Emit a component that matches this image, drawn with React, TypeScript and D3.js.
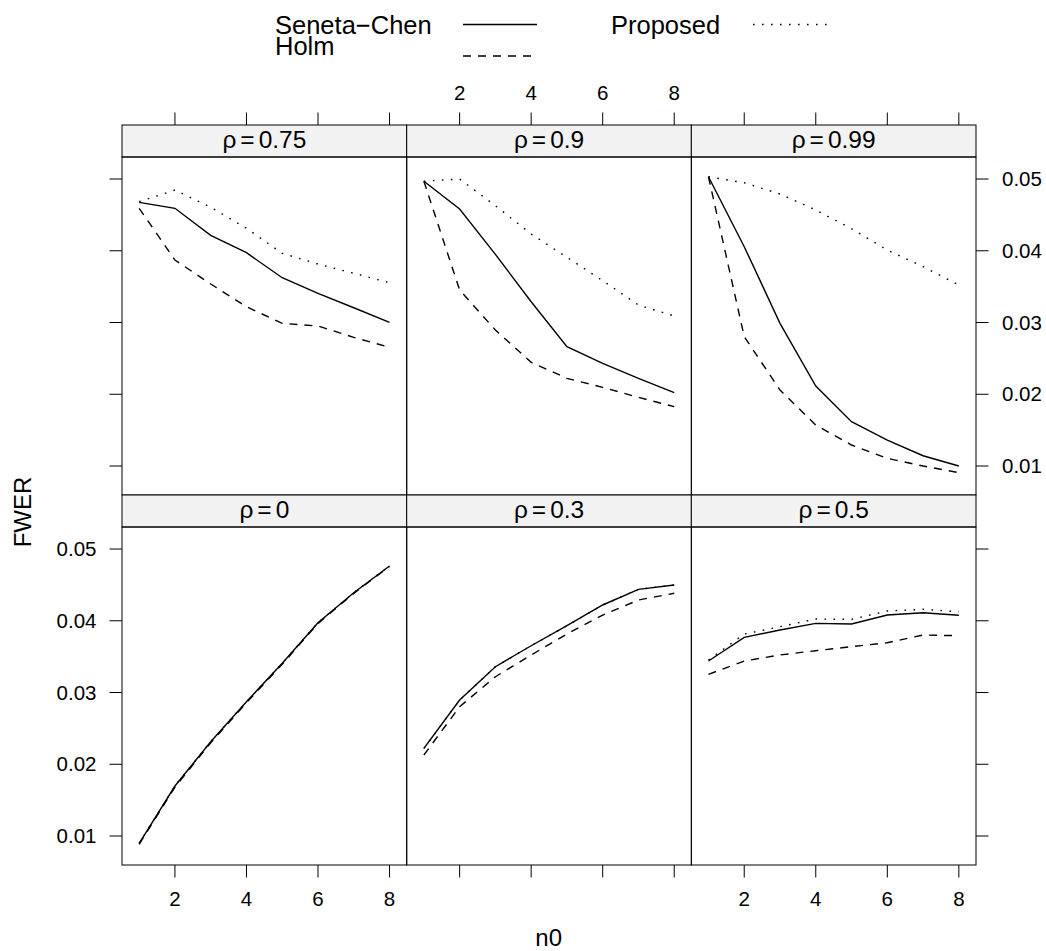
import React from "react";
import * as d3 from "d3";

// ---- data ----
const n0 = [1, 2, 3, 4, 5, 6, 7, 8];
const panelOrderTop = ["0.75", "0.9", "0.99"];
const panelOrderBottom = ["0", "0.3", "0.5"];
const xTicks = [2, 4, 6, 8];
const yTicks = [0.01, 0.02, 0.03, 0.04, 0.05];
const yTickLabels = ["0.01", "0.02", "0.03", "0.04", "0.05"];
const methods = ["Seneta\u2212Chen", "Holm", "Proposed"];

const senetaChen: Record<string, number[]> = {
  "0.75": [0.04675, 0.04592, 0.04215, 0.03973, 0.03624, 0.03407, 0.03206, 0.03003],
  "0.9": [0.0497, 0.04582, 0.0395, 0.0329, 0.02663, 0.02431, 0.02222, 0.02022],
  "0.99": [0.05032, 0.04057, 0.02989, 0.02115, 0.01618, 0.01362, 0.01143, 0.01],
  "0": [0.00898, 0.01697, 0.02314, 0.02872, 0.03407, 0.03973, 0.04391, 0.04763],
  "0.3": [0.02222, 0.02895, 0.0336, 0.03652, 0.03931, 0.0422, 0.04438, 0.04498],
  "0.5": [0.03439, 0.03769, 0.03871, 0.03964, 0.03955, 0.0408, 0.04112, 0.04076],
};
const holm: Record<string, number[]> = {
  "0.75": [0.04592, 0.03871, 0.03537, 0.0322, 0.02989, 0.02951, 0.02794, 0.02654],
  "0.9": [0.0497, 0.03453, 0.02896, 0.02445, 0.02222, 0.02097, 0.01957, 0.01827],
  "0.99": [0.05032, 0.02803, 0.02059, 0.01571, 0.01293, 0.01107, 0.01, 0.00907],
  "0": [0.00885, 0.01682, 0.02298, 0.02858, 0.03395, 0.03962, 0.04382, 0.04758],
  "0.3": [0.02129, 0.02802, 0.0322, 0.03523, 0.03815, 0.0408, 0.04289, 0.04383],
  "0.5": [0.03254, 0.03439, 0.03523, 0.03583, 0.03639, 0.03694, 0.03801, 0.03792],
};
const proposed: Record<string, number[]> = {
  "0.75": [0.04684, 0.04847, 0.04606, 0.04313, 0.03964, 0.03815, 0.03686, 0.03555],
  "0.9": [0.0497, 0.05, 0.04628, 0.04233, 0.03909, 0.03583, 0.03244, 0.03091],
  "0.99": [0.05032, 0.04948, 0.04791, 0.04568, 0.04307, 0.0401, 0.03778, 0.03523],
  "0": [0.00898, 0.01697, 0.02314, 0.02872, 0.03407, 0.03973, 0.04391, 0.04763],
  "0.3": [0.02222, 0.02895, 0.0336, 0.03652, 0.03931, 0.0422, 0.04438, 0.04498],
  "0.5": [0.03453, 0.03815, 0.03917, 0.04024, 0.0402, 0.04136, 0.0416, 0.04126],
};

const FONT = "'Liberation Sans', Arial, Helvetica, sans-serif";
const W = 1046;
const H = 951;

const colLefts = [122, 406.7, 691.3];
const colW = 284.7;
const rowStripTops = [125, 495];
const stripH = 32;
const plotH = 338;
const TICK = 12.5;
const TICK_FS = 20.5;

const DASH = "8,7";
const DOT = "1.6,7.4";

const x = d3.scaleLinear().domain([0.52, 8.48]).range([0, colW]);
const yDomain: [number, number] = [0.00596, 0.05307];

export default function App() {
  const styles = [
    { data: senetaChen, dash: undefined as string | undefined },
    { data: holm, dash: DASH },
    { data: proposed, dash: DOT },
  ];
  const rows = [panelOrderTop, panelOrderBottom];

  const panels: React.ReactNode[] = [];
  rows.forEach((row, ri) => {
    row.forEach((rho, ci) => {
      const left = colLefts[ci];
      const stripTop = rowStripTops[ri];
      const plotTop = stripTop + stripH;
      const plotBottom = plotTop + plotH;
      const y = d3.scaleLinear().domain(yDomain).range([plotBottom, plotTop]);
      const line = d3
        .line<number>()
        .x((_, i) => left + x(n0[i]))
        .y((v) => y(v));
      panels.push(
        <g key={`p-${ri}-${ci}`}>
          <rect x={left} y={stripTop} width={colW} height={stripH} fill="#f2f2f2" stroke="#000" strokeWidth={1} />
          <text
            x={left + colW / 2}
            y={stripTop + 23}
            textAnchor="middle"
            fontSize={24.5}
            fontFamily={FONT}
          >
            <tspan>ρ</tspan>
            <tspan dx={4}>=</tspan>
            <tspan dx={4}>{rho}</tspan>
          </text>
          <rect x={left} y={plotTop} width={colW} height={plotH} fill="none" stroke="#000" strokeWidth={1} />
          {styles.map((s, si) => (
            <path
              key={si}
              d={line(s.data[rho]) || ""}
              fill="none"
              stroke="#000"
              strokeWidth={1.4}
              strokeDasharray={s.dash}
            />
          ))}
        </g>
      );
    });
  });

  // axes
  const axes: React.ReactNode[] = [];
  const topRowTop = rowStripTops[0];
  const bottomPlotBottom = rowStripTops[1] + stripH + plotH;
  colLefts.forEach((left, ci) => {
    xTicks.forEach((t) => {
      const px = left + x(t);
      axes.push(<line key={`tt${ci}${t}`} x1={px} x2={px} y1={topRowTop} y2={topRowTop - TICK} stroke="#000" strokeWidth={1} />);
      axes.push(<line key={`bt${ci}${t}`} x1={px} x2={px} y1={bottomPlotBottom} y2={bottomPlotBottom + TICK} stroke="#000" strokeWidth={1} />);
      if (ci === 1) {
        axes.push(
          <text key={`tl${ci}${t}`} x={px} y={100} textAnchor="middle" fontSize={TICK_FS} fontFamily={FONT}>
            {t}
          </text>
        );
      } else {
        axes.push(
          <text key={`bl${ci}${t}`} x={px} y={906} textAnchor="middle" fontSize={TICK_FS} fontFamily={FONT}>
            {t}
          </text>
        );
      }
    });
  });
  const rightEdge = colLefts[2] + colW;
  rowStripTops.forEach((st, ri) => {
    const plotTop = st + stripH;
    const y = d3.scaleLinear().domain(yDomain).range([plotTop + plotH, plotTop]);
    yTicks.forEach((t, ti) => {
      const py = y(t);
      axes.push(<line key={`lt${ri}${ti}`} x1={colLefts[0]} x2={colLefts[0] - TICK} y1={py} y2={py} stroke="#000" strokeWidth={1} />);
      axes.push(<line key={`rt${ri}${ti}`} x1={rightEdge} x2={rightEdge + TICK} y1={py} y2={py} stroke="#000" strokeWidth={1} />);
      if (ri === 1) {
        axes.push(
          <text key={`ll${ri}${ti}`} x={96.5} y={py} dy="0.35em" textAnchor="end" fontSize={TICK_FS} fontFamily={FONT}>
            {yTickLabels[ti]}
          </text>
        );
      } else {
        axes.push(
          <text key={`rl${ri}${ti}`} x={1002} y={py} dy="0.35em" textAnchor="start" fontSize={TICK_FS} fontFamily={FONT}>
            {yTickLabels[ti]}
          </text>
        );
      }
    });
  });

  return (
    <svg width={W} height={H} style={{ position: "absolute", left: 0, top: 0, background: "#fff" }}>
      <rect x={0} y={0} width={W} height={H} fill="#fff" />
      {/* legend */}
      <g fontFamily={FONT} fontSize={25.5}>
        <text x={275} y={34}>{methods[0]}</text>
        <line x1={463} x2={537} y1={24.5} y2={24.5} stroke="#000" strokeWidth={1.3} />
        <text x={275} y={55}>{methods[1]}</text>
        <line x1={463} x2={537} y1={56} y2={56} stroke="#000" strokeWidth={1.3} strokeDasharray={DASH} />
        <text x={611} y={34}>{methods[2]}</text>
        <line x1={753} x2={827} y1={24.5} y2={24.5} stroke="#000" strokeWidth={1.3} strokeDasharray={DOT} />
      </g>
      {panels}
      {axes}
      <text x={548.7} y={946} textAnchor="middle" fontSize={24} fontFamily={FONT}>n0</text>
      <text
        transform={`translate(31,512) rotate(-90)`}
        textAnchor="middle"
        fontSize={24}
        fontFamily={FONT}
      >
        FWER
      </text>
    </svg>
  );
}
